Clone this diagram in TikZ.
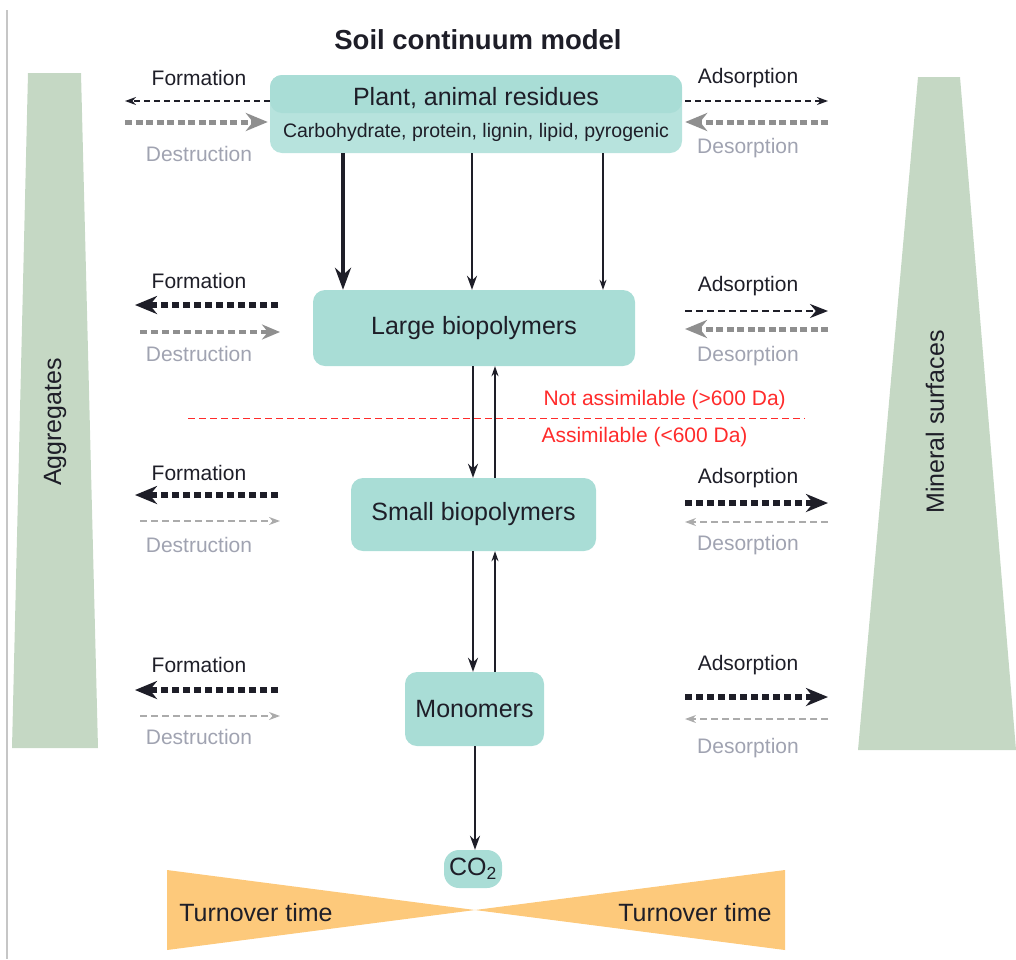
\documentclass[tikz,border=0pt]{standalone}
\usepackage{fontspec}
\setmainfont{Liberation Sans}
\usepackage{xcolor}
\definecolor{turq}{HTML}{A9DDD6}
\definecolor{turqclair}{HTML}{B7E3DD}
\definecolor{sauge}{HTML}{C5D8C4}
\definecolor{abricot}{HTML}{FDC97B}
\definecolor{rougevif}{HTML}{FF2B2B}
\definecolor{encre}{HTML}{1E1E28}
\definecolor{gristexte}{HTML}{A0A3B1}
\definecolor{grisfonce}{HTML}{8F8F8F}
\definecolor{grispale}{HTML}{ABABAB}
\usetikzlibrary{arrows.meta}

\begin{document}
\begin{tikzpicture}[x=1pt,y=-1pt,
  boite/.style={fill=turq,rounded corners=12pt,inner sep=0pt,align=center,text=encre,font=\fontsize{25}{28}\selectfont},
  lbl/.style={text=encre,font=\fontsize{21}{24}\selectfont},
  lblgris/.style={text=gristexte,font=\fontsize{21}{24}\selectfont},
  rouge/.style={text=rougevif,font=\fontsize{21}{24}\selectfont,anchor=west},
  vgros/.style={-{Stealth[length=22pt,width=16pt]},line width=4.5pt,encre},
  vmoy/.style={-{Stealth[length=14pt,width=10pt]},line width=2pt,encre},
  vfin/.style={-{Stealth[length=10pt,width=7pt]},line width=1.2pt,encre},
  nfin/.style={-{Stealth[length=11pt,width=8pt]},line width=1.6pt,encre,dash pattern=on 6pt off 4pt},
  nmoy/.style={-{Stealth[length=18pt,width=14pt]},line width=2.5pt,encre,dash pattern=on 7pt off 4pt},
  ngros/.style={-{Stealth[length=22pt,width=18pt]},line width=5.5pt,encre,dash pattern=on 7pt off 4pt},
  gfin/.style={-{Stealth[length=11pt,width=8pt]},line width=1.6pt,grispale,dash pattern=on 7pt off 4pt},
  gmoy/.style={-{Stealth[length=18pt,width=15pt]},line width=3.5pt,grisfonce,dash pattern=on 7pt off 4pt},
  ggros/.style={-{Stealth[length=22pt,width=18pt]},line width=5pt,grisfonce,dash pattern=on 7pt off 3.5pt}
]
\useasboundingbox (0,0) rectangle (1016,959);
\draw[gray!45,line width=1.5pt] (7,10) -- (7,959);
% titre
\node[font=\fontsize{27.5}{30}\selectfont\bfseries,text=encre] (titre) at (478,40) {Soil continuum model};
% bandes laterales
\fill[sauge] (28,73) -- (81,73) -- (98,748) -- (12,748) -- cycle;
\fill[sauge] (918,77) -- (960,77) -- (1016,750) -- (858,750) -- cycle;
\node[lbl,rotate=90,font=\fontsize{25}{28}\selectfont] (aggr) at (55,422) {Aggregates};
\node[lbl,rotate=90,font=\fontsize{25}{28}\selectfont] (miner) at (935,422) {Mineral surfaces};
% compartiments
\node[boite,minimum width=412,minimum height=78,
  path picture={\fill[turq] (path picture bounding box.north west) rectangle ([yshift=-38pt]path picture bounding box.north east);},
  fill=turqclair] (plant) at (476,114)
  {Plant, animal residues\\[4pt]{\fontsize{19.5}{22}\selectfont Carbohydrate, protein, lignin, lipid, pyrogenic}};
\node[boite,minimum width=322,minimum height=76] (large) at (474,328) {Large biopolymers};
\node[boite,minimum width=245,minimum height=73] (small) at (473.5,514.5) {Small biopolymers};
\node[boite,minimum width=139,minimum height=74] (mono) at (474.5,709) {Monomers};
\node[boite,minimum width=58,minimum height=38,rounded corners=15pt] (co2) at (473,869) {CO\textsubscript{2}};
% fleches verticales
\draw[vgros] ([xshift=-133pt]plant.south) -- ([xshift=-131pt]large.north);
\draw[vmoy] ([xshift=-4pt]plant.south) -- ([xshift=-2pt]large.north);
\draw[vfin] ([xshift=127pt]plant.south) -- ([xshift=129pt]large.north);
\draw[vmoy] ([xshift=-1pt]large.south) -- ([xshift=-0.5pt]small.north);
\draw[vfin] ([xshift=21.5pt]small.north) -- ([xshift=21pt]large.south);
\draw[vmoy] ([xshift=-0.5pt]small.south) -- ([xshift=-1.5pt]mono.north);
\draw[vfin] ([xshift=20.5pt]mono.north) -- ([xshift=21.5pt]small.south);
\draw[vmoy] ([xshift=0.5pt]mono.south) -- ([xshift=2pt]co2.north);
% seuil d'assimilation
\draw[rougevif,line width=1pt,dash pattern=on 7pt off 4pt] (188,418) -- (805,418);
\node[rouge] (nonass) at (540,400) {Not assimilable (>600 Da)};
\node[rouge] (ass) at (538,437) {Assimilable (<600 Da)};
% temps de renouvellement
\fill[abricot] (167,870) -- (475,910) -- (167,950) -- cycle;
\fill[abricot] (785,870) -- (475,910) -- (785,950) -- cycle;
\node[lbl,font=\fontsize{25}{28}\selectfont] (tg) at (256,913) {Turnover time};
\node[lbl,font=\fontsize{25}{28}\selectfont] (td) at (695,913) {Turnover time};
% etiquettes gauche
\node[lbl] (form1) at (199,78) {Formation};
\node[lblgris] (destr1) at (199,154) {Destruction};
\node[lbl] (form2) at (199,281) {Formation};
\node[lblgris] (destr2) at (199,354) {Destruction};
\node[lbl] (form3) at (199,473) {Formation};
\node[lblgris] (destr3) at (199,545) {Destruction};
\node[lbl] (form4) at (199,665) {Formation};
\node[lblgris] (destr4) at (199,737) {Destruction};
% etiquettes droite
\node[lbl] (ads1) at (748,78) {Adsorption};
\node[lblgris] (des1) at (748,148) {Desorption};
\node[lbl] (ads2) at (748,286) {Adsorption};
\node[lblgris] (des2) at (748,356) {Desorption};
\node[lbl] (ads3) at (748,478) {Adsorption};
\node[lblgris] (des3) at (748,545) {Desorption};
\node[lbl] (ads4) at (748,665) {Adsorption};
\node[lblgris] (des4) at (748,748) {Desorption};
% extremites des fleches laterales
\coordinate (g1) at (125,101); \coordinate (d1) at (828,101);
\coordinate (g2) at (135,305); \coordinate (h2) at (278,305);
\coordinate (a2) at (685,311); \coordinate (d2) at (828,311);
\coordinate (g3) at (135,495); \coordinate (h3) at (278,495);
\coordinate (a3) at (685,503); \coordinate (d3) at (828,503);
\coordinate (g4) at (135,690); \coordinate (h4) at (278,690);
\coordinate (a4) at (685,697); \coordinate (d4) at (828,697);
% fleches laterales
\draw[nfin] ([yshift=13pt]plant.west) -- (g1); \draw[ggros] ([yshift=-21pt]g1) -- ([yshift=-8pt,xshift=-2pt]plant.west);
\draw[nfin] ([yshift=13pt,xshift=3pt]plant.east) -- (d1); \draw[ggros] ([yshift=-21pt]d1) -- ([yshift=-8pt,xshift=3pt]plant.east);
\draw[ngros] (h2) -- (g2); \draw[gmoy] ([yshift=-27pt,xshift=5pt]g2) -- ([yshift=-27pt,xshift=2pt]h2);
\draw[nmoy] (a2) -- (d2); \draw[ggros] ([yshift=-18pt]d2) -- ([yshift=-18pt]a2);
\draw[ngros] (h3) -- (g3); \draw[gfin] ([yshift=-26pt,xshift=5pt]g3) -- ([yshift=-26pt,xshift=2pt]h3);
\draw[ngros] (a3) -- (d3); \draw[gfin] ([yshift=-19pt]d3) -- ([yshift=-19pt]a3);
\draw[ngros] (h4) -- (g4); \draw[gfin] ([yshift=-26pt,xshift=5pt]g4) -- ([yshift=-26pt,xshift=2pt]h4);
\draw[ngros] (a4) -- (d4); \draw[gfin] ([yshift=-22pt]d4) -- ([yshift=-22pt]a4);
\end{tikzpicture}
\end{document}
